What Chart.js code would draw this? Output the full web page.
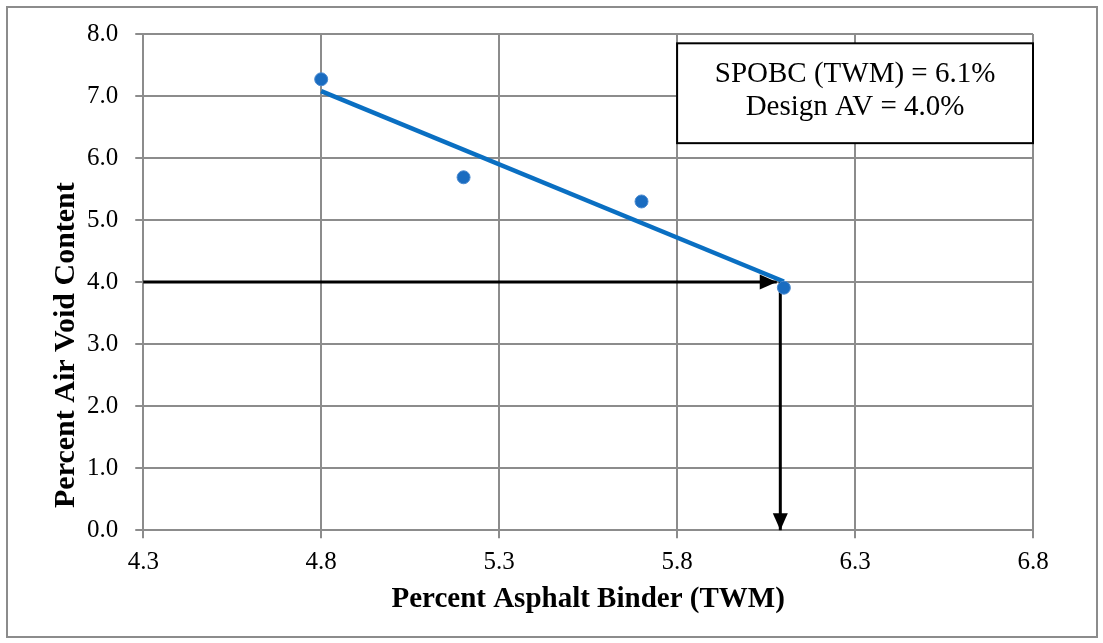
<!DOCTYPE html>
<html>
<head>
<meta charset="utf-8">
<script src="https://cdn.jsdelivr.net/npm/chart.js@4/dist/chart.umd.min.js"></script>
<style>
  html, body { margin: 0; padding: 0; background: #fff; }
  #frame { position: absolute; left: 6px; top: 6px; width: 1088px; height: 628px; border: 2px solid #8c8c8c; }
  #wrap { position: absolute; left: 0; top: 0; width: 1103px; height: 643px; }
</style>
</head>
<body>
<div id="frame"></div>
<div id="wrap"><canvas id="chart" width="1103" height="643"></canvas></div>
<script>
// binder content vs air voids
const binder = [4.8, 5.2, 5.7, 6.1];
const airVoids = [7.27, 5.69, 5.30, 3.91];

// fitted line ends
const trendX = [4.8, 6.1];
const trendY = [7.08, 4.01];

// design arrows
const designAV = 4.0;
const designBinder = 6.09;

const xTicks = [4.3, 4.8, 5.3, 5.8, 6.3, 6.8];
const yTicks = [0, 1, 2, 3, 4, 5, 6, 7, 8];

const yTitle = 'Percent Air Void Content';
const xTitle = 'Percent Asphalt Binder (TWM)';
const noteLines = ['SPOBC (TWM) = 6.1%', 'Design AV = 4.0%'];
const noteBox = { x0: 5.80, x1: 6.80, y0: 6.24, y1: 7.85 };

const serif = '"Liberation Serif", "Times New Roman", serif';

// arrow heads at the last point of flagged datasets
const arrowHeads = {
  id: 'arrowHeads',
  afterDatasetsDraw(chart) {
    const ctx = chart.ctx;
    chart.data.datasets.forEach((ds, i) => {
      if (!ds.arrow) return;
      const pts = chart.getDatasetMeta(i).data;
      const a = pts[pts.length - 2], b = pts[pts.length - 1];
      const ang = Math.atan2(b.y - a.y, b.x - a.x);
      const len = 17, half = 7.5;
      ctx.save();
      ctx.fillStyle = '#000';
      ctx.translate(b.x, b.y);
      ctx.rotate(ang);
      ctx.beginPath();
      ctx.moveTo(0, 0);
      ctx.lineTo(-len, -half);
      ctx.lineTo(-len, half);
      ctx.closePath();
      ctx.fill();
      ctx.restore();
    });
  }
};

const noteBoxPlugin = {
  id: 'noteBox',
  afterDraw(chart) {
    const { ctx, scales: { x, y } } = chart;
    const l = x.getPixelForValue(noteBox.x0), r = x.getPixelForValue(noteBox.x1);
    const t = y.getPixelForValue(noteBox.y1), b = y.getPixelForValue(noteBox.y0);
    ctx.save();
    ctx.fillStyle = '#fff';
    ctx.fillRect(l, t, r - l, b - t);
    ctx.strokeStyle = '#000';
    ctx.lineWidth = 2;
    ctx.strokeRect(l, t, r - l, b - t);
    ctx.fillStyle = '#000';
    ctx.font = '29px ' + serif;
    ctx.textAlign = 'center';
    ctx.textBaseline = 'middle';
    const cx = (l + r) / 2;
    ctx.fillText(noteLines[0], cx, t + 31);
    ctx.fillText(noteLines[1], cx, t + 64);
    ctx.restore();
  }
};

// y title sits low, like the original spreadsheet chart
const yTitlePlugin = {
  id: 'yTitle',
  afterDraw(chart) {
    const { ctx, chartArea } = chart;
    const cy = (chartArea.top + chartArea.bottom) / 2 + 63;
    ctx.save();
    ctx.translate(74, cy);
    ctx.rotate(-Math.PI / 2);
    ctx.fillStyle = '#000';
    ctx.font = 'bold 30px ' + serif;
    ctx.textAlign = 'center';
    ctx.textBaseline = 'alphabetic';
    ctx.fillText(yTitle, 0, 0);
    ctx.restore();
  }
};

new Chart(document.getElementById('chart'), {
  type: 'scatter',
  data: {
    datasets: [
      {
        label: 'Design AV',
        type: 'line',
        data: [{ x: xTicks[0], y: designAV }, { x: designBinder - 0.01, y: designAV }],
        borderColor: '#000',
        borderWidth: 3,
        pointRadius: 0,
        arrow: true,
        clip: false,
        order: 3,
      },
      {
        label: 'Binder',
        type: 'line',
        data: [{ x: designBinder, y: designAV }, { x: designBinder, y: 0 }],
        borderColor: '#000',
        borderWidth: 3,
        pointRadius: 0,
        arrow: true,
        clip: false,
        order: 3,
      },
      {
        label: 'Trend',
        type: 'line',
        data: trendX.map((v, i) => ({ x: v, y: trendY[i] })),
        borderColor: '#0a6fc2',
        borderWidth: 4.5,
        pointRadius: 0,
        clip: false,
        order: 2,
      },
      {
        label: 'Air voids',
        data: binder.map((v, i) => ({ x: v, y: airVoids[i] })),
        backgroundColor: '#1a6cc0',
        borderColor: '#4a8ad0',
        borderWidth: 1,
        pointRadius: 6.5,
        clip: false,
        order: 1,
      }
    ]
  },
  options: {
    responsive: false,
    animation: false,
    layout: { padding: { left: 70, right: 70, top: 34, bottom: 22 } },
    plugins: { legend: { display: false }, tooltip: { enabled: false } },
    scales: {
      x: {
        type: 'linear',
        min: 4.3, max: 6.8,
        afterBuildTicks: s => { s.ticks = xTicks.map(v => ({ value: v })); },
        grid: { color: '#8c8c8c', lineWidth: 2, tickLength: 8 },
        border: { color: '#8c8c8c', width: 2 },
        ticks: {
          color: '#000', font: { family: serif, size: 25 }, padding: 9,
          callback: v => v.toFixed(1)
        },
        title: {
          display: true, text: xTitle, color: '#000',
          font: { family: serif, size: 29, weight: 'bold' }, padding: { top: -4, bottom: 4 }
        }
      },
      y: {
        min: 0, max: 8,
        afterBuildTicks: s => { s.ticks = yTicks.map(v => ({ value: v })); },
        grid: { color: '#8c8c8c', lineWidth: 2, tickLength: 8 },
        border: { color: '#8c8c8c', width: 2 },
        ticks: {
          color: '#000', font: { family: serif, size: 25 }, padding: 17,
          callback: v => v.toFixed(1)
        },
        title: { display: false }
      }
    }
  },
  plugins: [arrowHeads, noteBoxPlugin, yTitlePlugin]
});
</script>
</body>
</html>
